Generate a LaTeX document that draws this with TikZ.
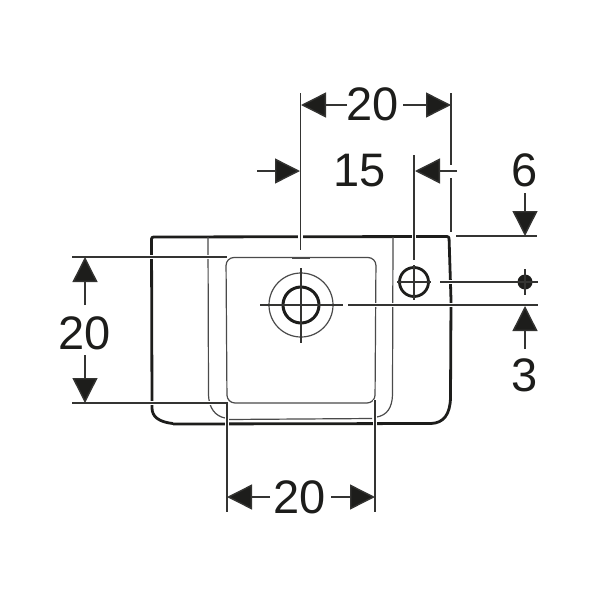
\documentclass[tikz,border=0pt]{standalone}
\usepackage{fontspec}
\setmainfont{Liberation Sans}
\usetikzlibrary{arrows.meta}
\definecolor{ink}{HTML}{1D1D1B}
\definecolor{soft}{HTML}{4A4A4A}
\tikzset{
  outlinestroke/.style={draw=ink,line width=2.8pt},
  innerstroke/.style={draw=soft,line width=1.2pt},
  extline/.style={draw=ink!90,line width=1.4pt,preaction={draw=white,line width=4.5pt}},
  dimline/.style={draw=ink!90,line width=1.4pt},
  dimtip/.style={dimline,-{Triangle[length=25pt,width=25pt,fill=ink]}},
  dimtext/.style={font=\fontsize{47}{47}\selectfont,text=ink,inner sep=0pt}
}
\begin{document}
\begin{tikzpicture}[x=1pt,y=-1pt]
\useasboundingbox (0,0) rectangle (600,600);
% body
\draw[outlinestroke,rounded corners=2pt] (173,423.5) .. controls (158,422) and (152,416) .. (152,406) -- (151.5,237) -- (449,236.5) -- (451,300);
\draw[outlinestroke] (451,300) -- (450.5,398) .. controls (450,414) and (444,423) .. (431,423.5) -- (173,424);
\draw[innerstroke] (208,237) -- (208.5,395) .. controls (209,408) and (215,416) .. (225,418);
\draw[innerstroke] (393,237) -- (392.5,395) .. controls (392,408) and (387,415) .. (377,417);
\draw[innerstroke] (228,419.5) -- (372,418.5);
\draw[innerstroke,rounded corners=8pt] (226,257.5) -- (376,257.5) -- (375,403) -- (227,403) -- cycle;
\draw[draw=soft,line width=2pt] (292,258) -- (310,258);
% drain and tap hole
\draw[innerstroke] (301,305) circle (32);
\draw[outlinestroke,line width=3pt] (301,305) circle (18);
\draw[outlinestroke] (414,282) circle (14.5);
\draw[dimline] (301,268) -- (301,343);
\draw[dimline] (260,305) -- (343,305);
\draw[dimline] (414,265) -- (414,300);
\draw[dimline] (397,282) -- (431,282);
% extension lines
\draw[extline] (300.5,93) -- (300.5,250);
\draw[extline] (414,155) -- (414,260);
\draw[dimline] (451,93) -- (451,165);
\draw[dimline] (451,178) -- (451,232);
\draw[extline] (456,236) -- (537,236);
\draw[extline] (72,257) -- (227,257);
\draw[extline] (72,403) -- (228,403);
\draw[extline] (227,404) -- (227,512);
\draw[extline] (375,400) -- (375,512);
\draw[extline] (348,305) -- (538,305);
\draw[extline] (440,282) -- (525,282);
% target dot
\fill[ink] (525,282) circle (7.5);
\draw[dimline] (525,269) -- (525,295);
\draw[dimline] (515,282) -- (538,282);
% dimension arrows
\draw[dimtip] (347,105) -- (301,105);
\draw[dimtip] (403,105) -- (451,105);
\draw[dimtip] (257,171) -- (300,171);
\draw[dimtip] (457,171) -- (415,171);
\draw[dimtip] (525,193) -- (525,236);
\draw[dimtip] (525,349) -- (525,306);
\draw[dimtip] (85,305) -- (85,257);
\draw[dimtip] (85,355) -- (85,403);
\draw[dimtip] (270,497) -- (227,497);
\draw[dimtip] (331,497) -- (375,497);
% labels
\node[dimtext] (topwidth) at (372.5,104) {20};
\node[dimtext] (offset) at (360,170.5) {15};
\node[dimtext] (rimtop) at (524.5,170.5) {6};
\node[dimtext] (holeoffset) at (524.5,375) {3};
\node[dimtext] (basinheight) at (85,333) {20};
\node[dimtext] (basinwidth) at (300,497) {20};
\end{tikzpicture}
\end{document}
